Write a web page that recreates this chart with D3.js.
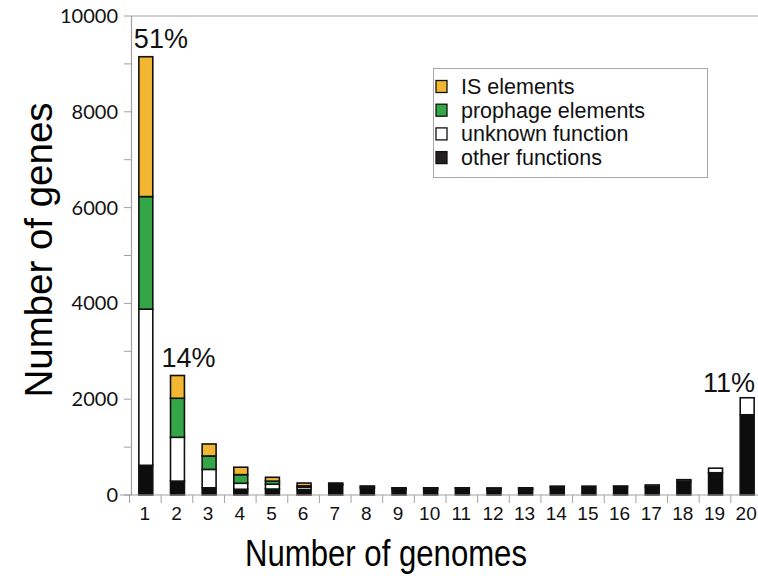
<!DOCTYPE html>
<html>
<head>
<meta charset="utf-8">
<script src="https://cdn.jsdelivr.net/npm/d3@7"></script>
<style>
  html, body { margin: 0; padding: 0; background: #fff; }
  svg { display: block; font-family: "Liberation Sans", Arial, sans-serif; }
</style>
</head>
<body>
<svg id="chart" width="758" height="579"></svg>
<script>
// ---- data ----
const categories = ["1","2","3","4","5","6","7","8","9","10","11","12","13","14","15","16","17","18","19","20"];
const otherFunctions = [620, 290, 150, 120, 125, 115, 215, 140, 120, 120, 145, 100, 110, 160, 185, 180, 175, 285, 465, 1675];
const unknownFunction = [3260, 915, 385, 125, 100, 50, 10, 20, 25, 25, 5, 35, 35, 25, 0, 5, 35, 35, 95, 355];
const prophageElements = [2350, 815, 280, 180, 65, 25, 25, 20, 5, 5, 0, 5, 5, 0, 0, 0, 0, 0, 0, 0];
const isElements = [2920, 475, 250, 155, 80, 60, 0, 5, 0, 0, 0, 5, 0, 0, 0, 0, 0, 0, 0, 0];
const seriesNames = ["other functions", "unknown function", "prophage elements", "IS elements"];
const seriesColors = ["#0d0d0d", "#ffffff", "#35a648", "#f2b732"];
const legendOrder = ["IS elements", "prophage elements", "unknown function", "other functions"];
const yTicks = [0, 2000, 4000, 6000, 8000, 10000];
const yMinorTicks = [1000, 3000, 5000, 7000, 9000];
const pctLabels = [
  { cat: "1", text: "51%" },
  { cat: "2", text: "14%" },
  { cat: "20", text: "11%" }
];

// ---- build table ----
const keys = ["other", "unknown", "prophage", "is"];
const table = categories.map((c, i) => ({
  cat: c,
  other: otherFunctions[i],
  unknown: unknownFunction[i],
  prophage: prophageElements[i],
  is: isElements[i]
}));
const stacked = d3.stack().keys(keys)(table);
const colorOf = d3.scaleOrdinal().domain(keys).range(seriesColors);

const svg = d3.select("#chart");
const x = d3.scaleBand().domain(categories).range([130, 763]).paddingInner(0.56).paddingOuter(0.28);
const y = d3.scaleLinear().domain([0, 10000]).range([495, 16]);

const axisGrey = "#a0a0a0";

// frame lines
svg.append("line").attr("x1", 131.5).attr("x2", 758).attr("y1", y(10000)).attr("y2", y(10000))
  .attr("stroke", axisGrey).attr("stroke-width", 1);
svg.append("line").attr("x1", 131.5).attr("x2", 131.5).attr("y1", y(10000)).attr("y2", y(0))
  .attr("stroke", axisGrey).attr("stroke-width", 1.2);

// y axis ticks
svg.selectAll("line.ytick").data(yTicks.concat(yMinorTicks)).enter().append("line")
  .attr("class", "ytick")
  .attr("x1", 124).attr("x2", 131.5)
  .attr("y1", d => y(d)).attr("y2", d => y(d))
  .attr("stroke", axisGrey).attr("stroke-width", 1);
svg.selectAll("text.ylab").data(yTicks).enter().append("text")
  .attr("class", "ylab")
  .attr("x", 118).attr("y", d => y(d) + 7)
  .attr("text-anchor", "end")
  .attr("font-family", "Lato, 'Liberation Sans', sans-serif")
  .attr("font-weight", 400)
  .attr("font-size", 20)
  .attr("fill", "#111")
  .text(d => d);

// bars
const groups = svg.selectAll("g.series").data(stacked).enter().append("g")
  .attr("class", "series")
  .attr("fill", d => colorOf(d.key));
groups.selectAll("rect").data(d => d.filter(s => s[1] - s[0] > 0)).enter().append("rect")
  .attr("x", d => x(d.data.cat))
  .attr("width", x.bandwidth())
  .attr("y", d => y(d[1]))
  .attr("height", d => y(d[0]) - y(d[1]))
  .attr("stroke", "#111")
  .attr("stroke-width", 1.6);

// x axis baseline & ticks
svg.append("line").attr("x1", 120).attr("x2", 758).attr("y1", y(0)).attr("y2", y(0))
  .attr("stroke", axisGrey).attr("stroke-width", 1.2);
const step = x.step();
const boundaries = categories.map(c => x(c) - x.paddingInner() * step / 2 - 0.5);
svg.selectAll("line.xtick").data(boundaries).enter().append("line")
  .attr("class", "xtick")
  .attr("x1", d => d).attr("x2", d => d)
  .attr("y1", y(0)).attr("y2", y(0) + 8)
  .attr("stroke", axisGrey).attr("stroke-width", 1);
svg.selectAll("text.xlab").data(categories).enter().append("text")
  .attr("class", "xlab")
  .attr("x", d => x(d) + x.bandwidth() / 2 - 1)
  .attr("y", 520)
  .attr("text-anchor", "middle")
  .attr("font-size", 19)
  .attr("fill", "#111")
  .text(d => d);

// axis titles
svg.append("text")
  .attr("x", 386).attr("y", 566)
  .attr("text-anchor", "middle")
  .attr("font-size", 36)
  .attr("textLength", 282).attr("lengthAdjust", "spacingAndGlyphs")
  .attr("fill", "#000")
  .text("Number of genomes");
svg.append("text")
  .attr("transform", "translate(52,250) rotate(-90)")
  .attr("text-anchor", "middle")
  .attr("font-size", 38)
  .attr("textLength", 295).attr("lengthAdjust", "spacingAndGlyphs")
  .attr("fill", "#000")
  .text("Number of genes");

// percent labels
const totals = table.map(d => d.other + d.unknown + d.prophage + d.is);
const pctOffsets = { "1": [-5, "start", 9], "2": [-9, "start", 8], "20": [0, "end", 6] };
svg.selectAll("text.pct").data(pctLabels).enter().append("text")
  .attr("class", "pct")
  .attr("x", d => {
    const o = pctOffsets[d.cat];
    return o[1] === "end" ? x(d.cat) + x.bandwidth() + 1 : x(d.cat) + o[0];
  })
  .attr("y", d => y(totals[categories.indexOf(d.cat)]) - pctOffsets[d.cat][2])
  .attr("text-anchor", d => pctOffsets[d.cat][1])
  .attr("font-size", 27)
  .attr("fill", "#111")
  .text(d => d.text);

// legend
const lg = svg.append("g");
lg.append("rect").attr("x", 433.5).attr("y", 68.5).attr("width", 274).attr("height", 109)
  .attr("fill", "#fff").attr("stroke", "#a8a8a8").attr("stroke-width", 1);
const legendColor = {
  "IS elements": seriesColors[3],
  "prophage elements": seriesColors[2],
  "unknown function": seriesColors[1],
  "other functions": "#231f20"
};
const rows = lg.selectAll("g.row").data(legendOrder).enter().append("g")
  .attr("class", "row")
  .attr("transform", (d, i) => `translate(0,${86.5 + i * 23.7})`);
rows.append("rect").attr("x", 436).attr("y", -6).attr("width", 11).attr("height", 12)
  .attr("fill", d => legendColor[d]).attr("stroke", "#111").attr("stroke-width", 1.3);
rows.append("text").attr("x", 461).attr("y", 7.5)
  .attr("font-size", 21.5).attr("fill", "#111")
  .text(d => d);
</script>
</body>
</html>
